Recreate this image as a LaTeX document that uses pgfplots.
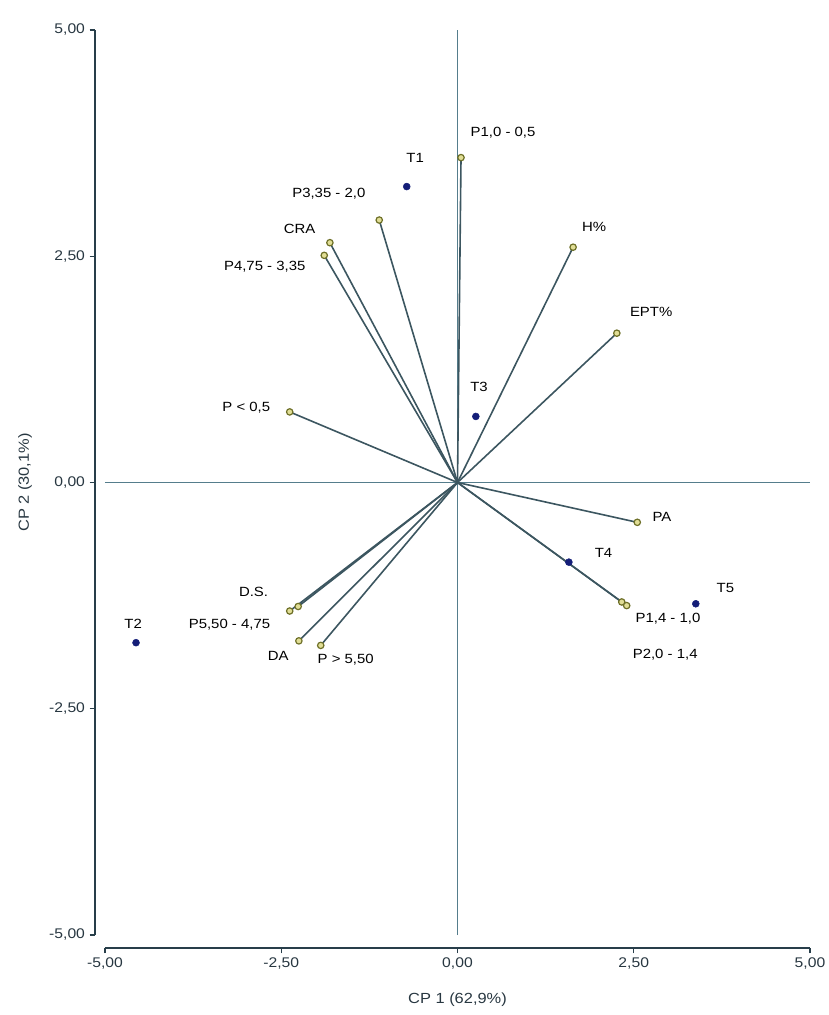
\documentclass[border=0pt]{standalone}
\usepackage{pgfplots}
\pgfplotsset{compat=1.18}
\usepackage{fontspec}
\setmainfont[FakeStretch=1.12]{Liberation Sans}
\definecolor{axiscol}{RGB}{40,62,74}
\definecolor{zerocol}{RGB}{85,125,140}
\definecolor{veccol}{RGB}{60,86,96}
\definecolor{ringcol}{RGB}{110,112,40}
\definecolor{ringfill}{RGB}{225,222,150}
\definecolor{dotcol}{RGB}{20,30,120}
\definecolor{txtcol}{RGB}{40,55,65}
\newcommand{\arr}[2]{\addplot[veccol, line width=1.2pt, mark=*, mark indices={2}, mark size=2.4pt, mark options={draw=ringcol, fill=ringfill, line width=0.9pt}] coordinates {(0,0) (#1,#2)};}
\begin{document}
\begin{tikzpicture}
\begin{axis}[
  scale only axis, width=528.75pt, height=678.75pt,
  xmin=-5, xmax=5, ymin=-5, ymax=5,
  axis x line=bottom, axis y line=left,
  axis x line shift=9.75pt, axis y line shift=7.5pt,
  axis line style={-, line width=1.6pt, color=axiscol},
  xtick={-5,-2.5,0,2.5,5}, xticklabels={{-5,00},{-2,50},{0,00},{2,50},{5,00}},
  ytick={-5,-2.5,0,2.5,5}, yticklabels={{-5,00},{-2,50},{0,00},{2,50},{5,00}},
  tick align=outside, major tick length=4pt,
  tick style={line width=1pt, color=axiscol},
  ticklabel style={font=\fontsize{10.5}{12}\selectfont, text=txtcol},
  xlabel={CP 1 (62,9\%)}, ylabel={CP 2 (30,1\%)},
  label style={font=\fontsize{11}{13}\selectfont, text=txtcol},
  xlabel style={at={(axis description cs:0.5,0)}, anchor=center, yshift=-48.75pt},
  ylabel style={at={(axis description cs:0,0.5)}, anchor=center, yshift=60pt},
  clip=false,
  every node/.style={font=\fontsize{10.5}{12}\selectfont, text=txtcol},
]
\addplot[zerocol, line width=0.9pt] coordinates {(0,-5) (0,5)};
\addplot[zerocol, line width=0.9pt] coordinates {(-5,0) (5,0)};
\arr{0.05}{3.59}
\arr{-1.11}{2.90}
\arr{-1.81}{2.65}
\arr{-1.89}{2.51}
\arr{1.64}{2.60}
\arr{2.26}{1.65}
\arr{-2.38}{0.78}
\arr{2.55}{-0.44}
\arr{2.33}{-1.32}
\arr{2.40}{-1.36}
\arr{-2.26}{-1.37}
\arr{-2.38}{-1.42}
\arr{-2.25}{-1.75}
\arr{-1.94}{-1.80}
\addplot[only marks, mark=*, mark size=2.6pt, color=dotcol] coordinates {
(-0.72,3.27) (-4.56,-1.77) (0.26,0.73) (1.58,-0.88) (3.38,-1.34)};
\node[anchor=west] at (axis cs:0.12,3.86) {P1,0 - 0,5};
\node at (axis cs:-0.60,3.59) {T1};
\node[anchor=east] at (axis cs:-1.24,3.19) {P3,35 - 2,0};
\node[anchor=east] at (axis cs:-1.95,2.80) {CRA};
\node[anchor=east] at (axis cs:-2.09,2.39) {P4,75 - 3,35};
\node[anchor=west] at (axis cs:1.70,2.82) {H\%};
\node[anchor=west] at (axis cs:2.38,1.88) {EPT\%};
\node[anchor=east] at (axis cs:-2.59,0.83) {P < 0,5};
\node[anchor=west, fill=white, inner sep=1.5pt] at (axis cs:0.15,1.06) {T3};
\node[anchor=west] at (axis cs:2.70,-0.38) {PA};
\node[anchor=west] at (axis cs:1.88,-0.78) {T4};
\node[anchor=west] at (axis cs:3.61,-1.17) {T5};
\node[anchor=west] at (axis cs:2.46,-1.50) {P1,4 - 1,0};
\node[anchor=west] at (axis cs:2.42,-1.90) {P2,0 - 1,4};
\node[anchor=east] at (axis cs:-2.62,-1.21) {D.S.};
\node[anchor=east] at (axis cs:-2.59,-1.57) {P5,50 - 4,75};
\node[anchor=east] at (axis cs:-2.33,-1.92) {DA};
\node[anchor=west] at (axis cs:-2.05,-1.96) {P > 5,50};
\node at (axis cs:-4.60,-1.56) {T2};
\end{axis}
\pgfresetboundingbox
\path (-78.75pt,-60pt) rectangle (543pt,701.25pt);
\end{tikzpicture}
\end{document}
